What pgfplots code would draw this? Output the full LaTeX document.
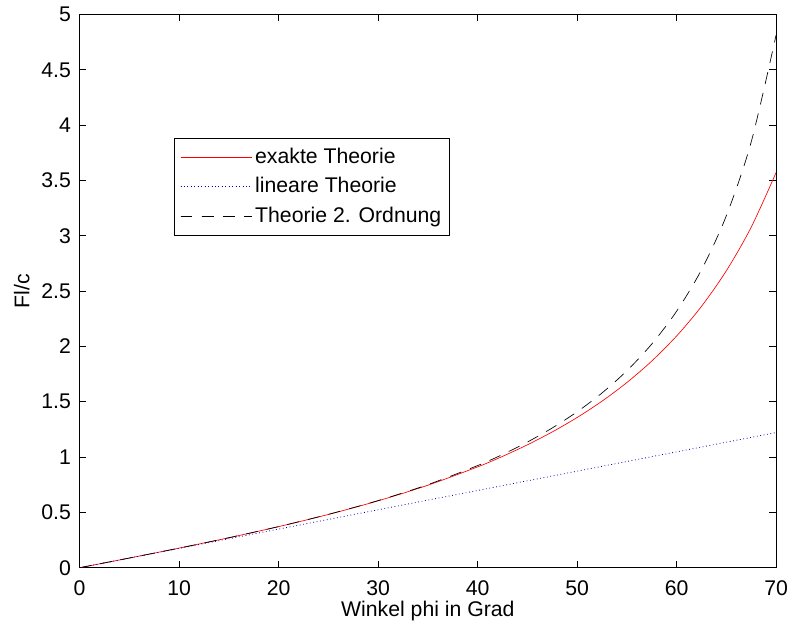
\documentclass[border=0pt]{standalone}
\usepackage{pgfplots}
\pgfplotsset{compat=1.18}
\usepackage{fontspec}
\setmainfont{Liberation Sans}
\begin{document}
\fontsize{16}{19}\selectfont
\begin{tikzpicture}[x=0.75pt,y=0.75pt]
\path (0,0) rectangle (795,628);
\begin{axis}[
  at={(80,56)}, anchor=south west,
  scale only axis,
  width=525pt, height=417pt,
  xmin=0, xmax=70, ymin=0, ymax=5,
  xtick={0,10,...,70},
  ytick={0,0.5,...,5},
  yticklabels={0,0.5,1,1.5,2,2.5,3,3.5,4,4.5,5},
  tick align=inside,
  major tick length=5pt,
  axis line style={line width=0.7pt},
  tick style={line width=0.6pt, black},
  /pgf/number format/assume math mode=true,
  ticklabel style={font=\fontsize{16}{19}\selectfont},
  xticklabel style={yshift=-4.5pt},
  yticklabel style={xshift=-1pt},
  label style={font=\fontsize{16}{19}\selectfont},
  xlabel={Winkel phi in Grad},
  ylabel={Fl/c},
  xlabel style={at={(axis description cs:0.5,-0.078)}, anchor=center},
  ylabel style={at={(axis description cs:-0.083,0.5)}, anchor=center},
  legend style={at={(0.136,0.777)}, anchor=north west, draw=black, line width=0.7pt,
    font=\fontsize{16}{19}\selectfont, inner xsep=4pt, inner ysep=5.5pt, row sep=4pt, cells={anchor=west}},
  legend cell align=left,
  legend image code/.code={\draw[#1, line width=0.6pt] (0pt,0pt) -- (49pt,0pt); \path (0pt,0pt) -- (54pt,0pt);},
]
\addplot[red, line width=0.5pt, smooth] coordinates {
(0,0) (5,0.087599) (10,0.177225) (15,0.271034) (20,0.371469) (25,0.481439)
(30,0.604600) (35,0.745729) (40,0.911348) (42.5,1.006087) (45,1.110721)
(47.5,1.227122) (50,1.357627) (52.5,1.505186) (55,1.673588) (57.5,1.867790)
(60,2.094395) (62.5,2.362395) (65,2.684373) (67.5,3.078522) (70,3.572099)};
\addlegendentry{exakte Theorie}
\addplot[blue!70!black, line width=0.6pt, dotted] coordinates {(0,0) (70,1.221730)};
\addlegendentry{lineare Theorie}
\addplot[black, line width=0.5pt, dash pattern=on 9pt off 7pt, smooth] coordinates {
(0,0) (5,0.087600) (10,0.177232) (15,0.271089) (20,0.371712) (25,0.482238)
(30,0.606773) (35,0.750981) (40,0.923081) (42.5,1.023275) (45,1.135666)
(47.5,1.263087) (50,1.409277) (52.5,1.579283) (55,1.780071) (57.5,2.021560)
(60,2.318408) (62.5,2.693117) (65,3.182256) (67.5,3.849448) (70,4.815877)};
\addlegendentry{Theorie 2. Ordnung}
\end{axis}
\end{tikzpicture}
\end{document}
